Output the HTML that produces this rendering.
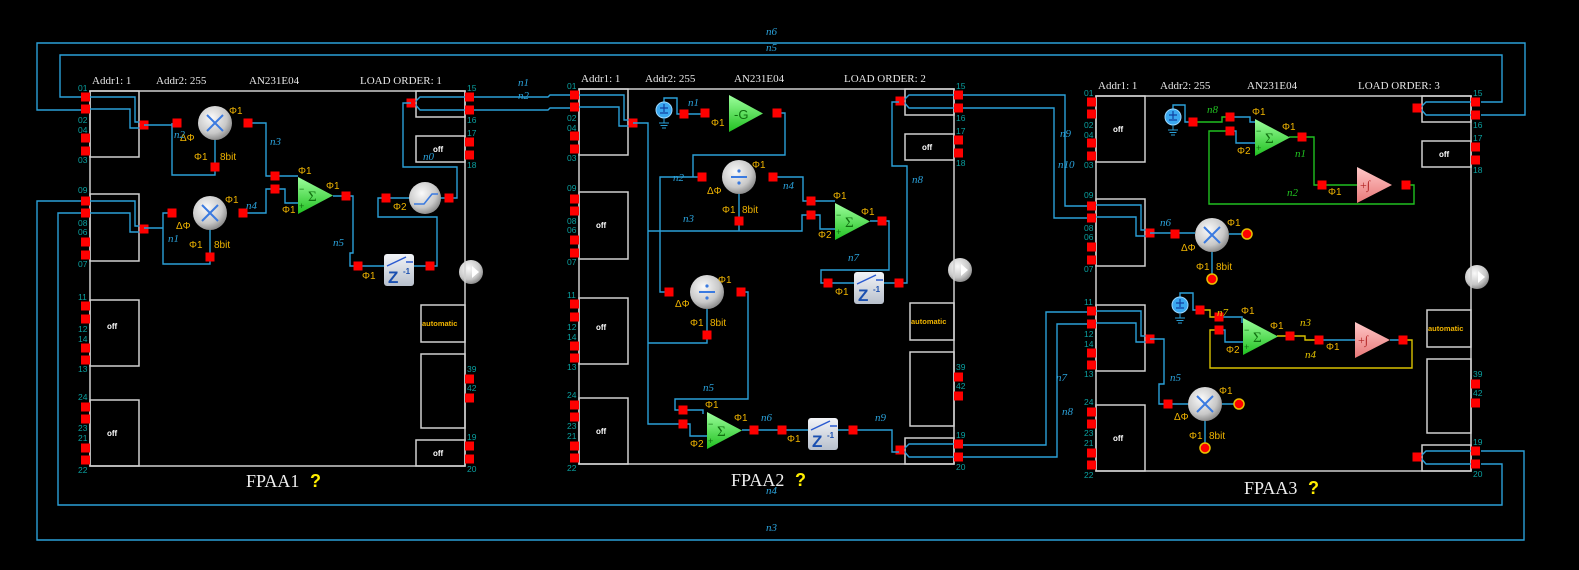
<!DOCTYPE html>
<html><head><meta charset="utf-8"><style>
html,body{margin:0;padding:0;background:#000;}
svg{display:block;}
.hd{font-family:"Liberation Serif",serif;font-size:11px;fill:#e6e6e6;}
.pl{font-family:"Liberation Sans",sans-serif;font-size:8.5px;fill:#0aa0a0;}
.off{font-family:"Liberation Sans",sans-serif;font-size:8px;fill:#fff;font-weight:bold;}
.auto{font-family:"Liberation Sans",sans-serif;font-size:7.5px;fill:#f0b400;font-weight:bold;}
.ph{font-family:"Liberation Sans",sans-serif;font-size:10px;fill:#f0b400;}
.nl{font-family:"Liberation Serif",serif;font-size:11px;fill:#2aa0d8;font-style:italic;}
.ng{font-family:"Liberation Serif",serif;font-size:11px;fill:#20c020;font-style:italic;}
.ny{font-family:"Liberation Serif",serif;font-size:11px;fill:#e0c000;font-style:italic;}
.tt{font-family:"Liberation Serif",serif;font-size:18px;fill:#eee;}
.q{font-family:"Liberation Sans",sans-serif;font-size:18px;fill:#ffee00;font-weight:bold;}
.w{fill:none;stroke:#2aa0d8;stroke-width:1.4;}
.wg{fill:none;stroke:#20c020;stroke-width:1.4;}
.wy{fill:none;stroke:#d8c000;stroke-width:1.4;}
.bx{fill:none;stroke:#d0d0d0;stroke-width:1.5;}
.p{fill:#ff0000;}
.z{font-family:"Liberation Sans",sans-serif;font-size:17px;font-weight:bold;fill:#1a4fb0;}
.zs{font-family:"Liberation Sans",sans-serif;font-size:8px;font-weight:bold;fill:#1a4fb0;}
</style></head><body>
<svg width="1579" height="570" viewBox="0 0 1579 570" xmlns="http://www.w3.org/2000/svg">
<defs>
<radialGradient id="gc" cx="40%" cy="35%" r="65%"><stop offset="0" stop-color="#fafafa"/><stop offset="0.7" stop-color="#c8c8c8"/><stop offset="1" stop-color="#909090"/></radialGradient>
<linearGradient id="gz" x1="0" y1="0" x2="0" y2="1"><stop offset="0" stop-color="#f2f4f8"/><stop offset="1" stop-color="#b8c0cc"/></linearGradient>
<linearGradient id="gg" x1="0" y1="0" x2="0" y2="1"><stop offset="0" stop-color="#9dff9d"/><stop offset="1" stop-color="#20c020"/></linearGradient>
<linearGradient id="gp" x1="0" y1="0" x2="0" y2="1"><stop offset="0" stop-color="#ffc8c8"/><stop offset="1" stop-color="#e87878"/></linearGradient>
<g id="frame">
 <circle cx="381" cy="181" r="12" fill="url(#gc)"/>
 <path d="M382 175 L389 181 L382 187Z" fill="#fff"/>
 <rect x="0" y="0" width="375" height="375" class="bx"/>
 <rect x="0" y="0" width="49" height="66" class="bx"/>
 <rect x="0" y="103" width="49" height="67" class="bx"/>
 <rect x="0" y="209" width="49" height="66" class="bx"/>
 <rect x="0" y="309" width="49" height="66" class="bx"/>
 <rect x="326" y="0" width="49" height="26" class="bx"/>
 <rect x="326" y="45" width="49" height="26" class="bx"/>
 <rect x="331" y="214" width="44" height="37" class="bx"/>
 <rect x="331" y="263" width="44" height="74" class="bx"/>
 <rect x="326" y="349" width="49" height="26" class="bx"/>
 <g class="p">
  <rect x="-9" y="1.5" width="9" height="9"/><rect x="-9" y="13.5" width="9" height="9"/><rect x="-9" y="42.5" width="9" height="9"/><rect x="-9" y="55.5" width="9" height="9"/>
  <rect x="-9" y="105.5" width="9" height="9"/><rect x="-9" y="117.5" width="9" height="9"/><rect x="-9" y="146.5" width="9" height="9"/><rect x="-9" y="159.5" width="9" height="9"/>
  <rect x="-9" y="210.5" width="9" height="9"/><rect x="-9" y="223.5" width="9" height="9"/><rect x="-9" y="252.5" width="9" height="9"/><rect x="-9" y="264.5" width="9" height="9"/>
  <rect x="-9" y="311.5" width="9" height="9"/><rect x="-9" y="323.5" width="9" height="9"/><rect x="-9" y="352.5" width="9" height="9"/><rect x="-9" y="364.5" width="9" height="9"/>
  <rect x="375" y="1.5" width="9" height="9"/><rect x="375" y="14.5" width="9" height="9"/><rect x="375" y="46.5" width="9" height="9"/><rect x="375" y="59.5" width="9" height="9"/>
  <rect x="375" y="283.5" width="9" height="9"/><rect x="375" y="302.5" width="9" height="9"/><rect x="375" y="350.5" width="9" height="9"/><rect x="375" y="363.5" width="9" height="9"/>
 </g>
</g>
<g id="xl"><path class="w" d="M0 6 H45 V31 H54 M0 18 H40 V37 H54"/><rect class="p" x="49.5" y="29.5" width="9" height="9"/></g>
<g id="xr"><path class="w" d="M375 6 H330 L324 12 M375 19 H330 L324 12"/><rect class="p" x="316.5" y="7.5" width="9" height="9"/></g>
<g id="mul"><circle r="17" fill="url(#gc)"/><path d="M-8 -8 L8 8 M8 -8 L-8 8" stroke="#3a7ae0" stroke-width="2"/></g>
<g id="div"><circle r="17" fill="url(#gc)"/><path d="M-8 0 H8" stroke="#3a7ae0" stroke-width="2"/><circle cy="-6" r="1.6" fill="#3a7ae0"/><circle cy="6" r="1.6" fill="#3a7ae0"/></g>
<g id="src"><circle r="8" fill="#3aa8f0" stroke="#9cd8ff"/><path d="M-4 -2 H4 M0 -6 V2 M-4 3 H4" stroke="#1040a0" stroke-width="1.2"/><path d="M0 8 V13 M-5 13 H5 M-3.5 15.5 H3.5 M-2 18 H2" stroke="#2aa0d8" stroke-width="1"/></g>
<g id="sum"><path d="M0 0 L35 18.5 L0 37Z" fill="url(#gg)"/><text x="10" y="24" font-family="Liberation Serif,serif" font-size="15" fill="#107010">Σ</text><text x="1" y="15" font-size="9" fill="#107010" font-family="Liberation Sans,sans-serif">−</text><text x="1" y="32" font-size="9" fill="#107010" font-family="Liberation Sans,sans-serif">+</text></g>
<g id="integ"><path d="M0 0 L35 18 L0 36Z" fill="url(#gp)"/><text x="3" y="22" font-family="Liberation Serif,serif" font-size="12" fill="#b02020">+∫</text></g>
<g id="zb"><rect width="30" height="32" rx="3" fill="url(#gz)"/><path d="M3 12 L22 3 M22 8 H29" stroke="#2a5ad0" stroke-width="1.5"/><text x="4" y="29" class="z">Z</text><text x="19" y="20" class="zs">-1</text></g>
<g id="rpad"><circle r="5" fill="#f00" stroke="#e8c000" stroke-width="1.5"/></g>
</defs>

<!-- global wires -->
<path class="w" d="M81 97 H60 V55 H1502 V102 H1481"/>
<path class="w" d="M81 110 H37 V43 H1525 V115 H1481"/>
<path class="w" d="M81 201 H37 V540 H1524 V451 H1481"/>
<path class="w" d="M81 213 H58 V505 H1502 V464 H1481"/>
<path class="w" d="M474 97 H548 L550 95 H570"/>
<path class="w" d="M474 110 H548 L550 108 H570"/>
<path class="w" d="M963 95 H1065 V206 H1087"/>
<path class="w" d="M963 108 H1054 V218 H1087"/>
<path class="w" d="M963 445 H1046 V312 H1087"/>
<path class="w" d="M963 457 H1057 V324 H1087"/>
<text class="nl" x="766" y="35">n6</text><text class="nl" x="766" y="51">n5</text>
<text class="nl" x="766" y="494">n4</text><text class="nl" x="766" y="531">n3</text>
<text class="nl" x="518" y="86">n1</text><text class="nl" x="518" y="99">n2</text>
<text class="nl" x="1060" y="137">n9</text><text class="nl" x="1058" y="168">n10</text>
<text class="nl" x="1056" y="381">n7</text><text class="nl" x="1062" y="415">n8</text>

<!-- ===== FPAA1 ===== -->
<g transform="translate(90,91)">
 <use href="#frame"/><use href="#xl"/><use href="#xl" transform="translate(0,104)"/><use href="#xr"/>
 <text class="hd" x="2" y="-7">Addr1: 1</text><text class="hd" x="66" y="-7">Addr2: 255</text><text class="hd" x="159" y="-7">AN231E04</text><text class="hd" x="270" y="-7">LOAD ORDER: 1</text>
 <g class="pl"><text x="-12" y="0">01</text><text x="-12" y="32">02</text><text x="-12" y="42">04</text><text x="-12" y="72">03</text><text x="-12" y="102">09</text><text x="-12" y="135">08</text><text x="-12" y="144">06</text><text x="-12" y="176">07</text><text x="-12" y="209">11</text><text x="-12" y="241">12</text><text x="-12" y="251">14</text><text x="-12" y="281">13</text><text x="-12" y="309">24</text><text x="-12" y="340">23</text><text x="-12" y="350">21</text><text x="-12" y="382">22</text>
 <text x="377" y="0">15</text><text x="377" y="32">16</text><text x="377" y="45">17</text><text x="377" y="77">18</text><text x="377" y="281">39</text><text x="377" y="300">42</text><text x="377" y="349">19</text><text x="377" y="381">20</text></g>
 <text class="off" x="17" y="238">off</text><text class="off" x="17" y="345">off</text><text class="off" x="343" y="61">off</text><text class="off" x="343" y="365">off</text><text class="auto" x="332" y="235">automatic</text>
 <text class="tt" x="156" y="396">FPAA1</text><text class="q" x="220" y="396">?</text>
</g>
<path class="w" d="M144 125 H177 M172 123 V175 H215 V167 M248 123 H266 V176 H275 M144 228 H163 V213 H172 M163 228 V264 H210 V257 M243 213 H266 V189 H275 M275 176 H298 M275 189 H285 V203 H298 M333 196 H346 H353 V253 H350 V266 H358 H430 H437 V217 H378 V198 H386 H449 H457 V167 H403 V103 H411 M215 140 V167 M210 230 V257"/>
<use href="#mul" x="215" y="123"/><use href="#mul" x="210" y="213"/>
<use href="#sum" x="298" y="177"/><use href="#zb" x="384" y="254"/>
<circle cx="425" cy="198" r="16" fill="url(#gc)"/><path d="M414 204 L424 204 L432 194 H438" stroke="#3a7ae0" stroke-width="1.6" fill="none"/>
<g class="p"><rect x="172.5" y="118.5" width="9" height="9"/><rect x="243.5" y="118.5" width="9" height="9"/><rect x="210.5" y="162.5" width="9" height="9"/><rect x="167.5" y="208.5" width="9" height="9"/><rect x="238.5" y="208.5" width="9" height="9"/><rect x="205.5" y="252.5" width="9" height="9"/><rect x="270.5" y="171.5" width="9" height="9"/><rect x="270.5" y="184.5" width="9" height="9"/><rect x="341.5" y="191.5" width="9" height="9"/><rect x="353.5" y="261.5" width="9" height="9"/><rect x="425.5" y="261.5" width="9" height="9"/><rect x="381.5" y="193.5" width="9" height="9"/><rect x="444.5" y="193.5" width="9" height="9"/></g>
<g class="ph"><text x="229" y="114">Φ1</text><text x="194" y="160">Φ1</text><text x="220" y="160">8bit</text><text x="180" y="141">ΔΦ</text><text x="225" y="203">Φ1</text><text x="176" y="229">ΔΦ</text><text x="189" y="248">Φ1</text><text x="214" y="248">8bit</text><text x="298" y="174">Φ1</text><text x="282" y="213">Φ1</text><text x="326" y="189">Φ1</text><text x="362" y="279">Φ1</text><text x="393" y="210">Φ2</text></g>
<text class="nl" x="174" y="138">n2</text><text class="nl" x="270" y="145">n3</text><text class="nl" x="246" y="209">n4</text><text class="nl" x="168" y="242">n1</text><text class="nl" x="333" y="246">n5</text><text class="nl" x="423" y="160">n0</text>

<!-- ===== FPAA2 ===== -->
<g transform="translate(579,89)">
 <use href="#frame"/><use href="#xl"/><use href="#xr"/><use href="#xr" transform="translate(0,349)"/>
 <text class="hd" x="2" y="-7">Addr1: 1</text><text class="hd" x="66" y="-7">Addr2: 255</text><text class="hd" x="155" y="-7">AN231E04</text><text class="hd" x="265" y="-7">LOAD ORDER: 2</text>
 <g class="pl"><text x="-12" y="0">01</text><text x="-12" y="32">02</text><text x="-12" y="42">04</text><text x="-12" y="72">03</text><text x="-12" y="102">09</text><text x="-12" y="135">08</text><text x="-12" y="144">06</text><text x="-12" y="176">07</text><text x="-12" y="209">11</text><text x="-12" y="241">12</text><text x="-12" y="251">14</text><text x="-12" y="281">13</text><text x="-12" y="309">24</text><text x="-12" y="340">23</text><text x="-12" y="350">21</text><text x="-12" y="382">22</text>
 <text x="377" y="0">15</text><text x="377" y="32">16</text><text x="377" y="45">17</text><text x="377" y="77">18</text><text x="377" y="281">39</text><text x="377" y="300">42</text><text x="377" y="349">19</text><text x="377" y="381">20</text></g>
 <text class="off" x="17" y="139">off</text><text class="off" x="17" y="241">off</text><text class="off" x="17" y="345">off</text><text class="off" x="343" y="61">off</text><text class="auto" x="332" y="235">automatic</text>
 <text class="tt" x="152" y="397">FPAA2</text><text class="q" x="216" y="397">?</text>
</g>
<path class="w" d="M633 123 H648 V424 H683 M648 231 H802 V215 H811 M739 221 V231 M664 102 V98 H677 V114 H705 M777 113 H785 V155 H693 V177 H702 M702 177 H660 V292 H669 M773 177 H803 V201 H811 M811 201 H835 M811 215 H820 V229 H835 M870 221 H882 H889 V270 H821 V283 H828 M828 283 H899 H907 V166 H892 V102 H899 M707 309 V335 M707 335 V343 H648 M741 292 H748 V399 H675 V410 H683 H703 V414 M683 424 H690 V436 H707 M742 430 H754 H782 H853 H892 V452 H899 M739 194 V221"/>
<use href="#src" x="664" y="110"/>
<path d="M729 95 L763 113.5 L729 132Z" fill="url(#gg)"/><text x="734" y="119" font-family="Liberation Sans,sans-serif" font-size="13" fill="#107010">-G</text>
<use href="#div" x="739" y="177"/><use href="#div" x="707" y="292"/>
<use href="#sum" x="835" y="203"/><use href="#sum" x="707" y="412"/>
<use href="#zb" x="854" y="272"/><use href="#zb" x="808" y="418"/>
<g class="p"><rect x="679.5" y="109.5" width="9" height="9"/><rect x="700.5" y="108.5" width="9" height="9"/><rect x="772.5" y="108.5" width="9" height="9"/><rect x="697.5" y="172.5" width="9" height="9"/><rect x="768.5" y="172.5" width="9" height="9"/><rect x="734.5" y="216.5" width="9" height="9"/><rect x="806.5" y="196.5" width="9" height="9"/><rect x="806.5" y="210.5" width="9" height="9"/><rect x="877.5" y="216.5" width="9" height="9"/><rect x="823.5" y="278.5" width="9" height="9"/><rect x="894.5" y="278.5" width="9" height="9"/><rect x="664.5" y="287.5" width="9" height="9"/><rect x="736.5" y="287.5" width="9" height="9"/><rect x="702.5" y="330.5" width="9" height="9"/><rect x="678.5" y="405.5" width="9" height="9"/><rect x="678.5" y="419.5" width="9" height="9"/><rect x="749.5" y="425.5" width="9" height="9"/><rect x="777.5" y="425.5" width="9" height="9"/><rect x="848.5" y="425.5" width="9" height="9"/></g>
<g class="ph"><text x="711" y="126">Φ1</text><text x="752" y="168">Φ1</text><text x="707" y="194">ΔΦ</text><text x="722" y="213">Φ1</text><text x="742" y="213">8bit</text><text x="833" y="199">Φ1</text><text x="818" y="238">Φ2</text><text x="861" y="215">Φ1</text><text x="835" y="295">Φ1</text><text x="718" y="283">Φ1</text><text x="675" y="307">ΔΦ</text><text x="690" y="326">Φ1</text><text x="710" y="326">8bit</text><text x="705" y="408">Φ1</text><text x="690" y="447">Φ2</text><text x="734" y="421">Φ1</text><text x="787" y="442">Φ1</text></g>
<text class="nl" x="688" y="106">n1</text><text class="nl" x="673" y="181">n2</text><text class="nl" x="683" y="222">n3</text><text class="nl" x="783" y="189">n4</text><text class="nl" x="848" y="261">n7</text><text class="nl" x="912" y="183">n8</text><text class="nl" x="703" y="391">n5</text><text class="nl" x="761" y="421">n6</text><text class="nl" x="875" y="421">n9</text>

<!-- ===== FPAA3 ===== -->
<g transform="translate(1096,96)">
 <use href="#frame"/><use href="#xl" transform="translate(0,103)"/><use href="#xl" transform="translate(0,209)"/><use href="#xr"/><use href="#xr" transform="translate(0,349)"/>
 <text class="hd" x="2" y="-7">Addr1: 1</text><text class="hd" x="64" y="-7">Addr2: 255</text><text class="hd" x="151" y="-7">AN231E04</text><text class="hd" x="262" y="-7">LOAD ORDER: 3</text>
 <g class="pl"><text x="-12" y="0">01</text><text x="-12" y="32">02</text><text x="-12" y="42">04</text><text x="-12" y="72">03</text><text x="-12" y="102">09</text><text x="-12" y="135">08</text><text x="-12" y="144">06</text><text x="-12" y="176">07</text><text x="-12" y="209">11</text><text x="-12" y="241">12</text><text x="-12" y="251">14</text><text x="-12" y="281">13</text><text x="-12" y="309">24</text><text x="-12" y="340">23</text><text x="-12" y="350">21</text><text x="-12" y="382">22</text>
 <text x="377" y="0">15</text><text x="377" y="32">16</text><text x="377" y="45">17</text><text x="377" y="77">18</text><text x="377" y="281">39</text><text x="377" y="300">42</text><text x="377" y="349">19</text><text x="377" y="381">20</text></g>
 <text class="off" x="17" y="36">off</text><text class="off" x="17" y="345">off</text><text class="off" x="343" y="61">off</text><text class="auto" x="332" y="235">automatic</text>
 <text class="tt" x="148" y="398">FPAA3</text><text class="q" x="212" y="398">?</text>
</g>
<path class="w" d="M1173 109 V105 H1185 V122 H1193 M1230 117 H1250 V122 H1255 M1230 131 H1236 V143 H1255 M1150 233 H1195 M1212 252 V279 M1229 234 H1247 M1180 297 V293 H1193 V310 H1200 M1219 317 H1242 V323 M1219 330 H1225 V342 H1243 M1150 339 H1164 V384 H1159 V404 H1188 M1205 421 V448 M1222 404 H1239 M1319 340 H1355 M1390 340 H1403"/>
<path class="wg" d="M1193 122 H1222 V117 H1230 M1289 137 H1314 V185 H1357 M1406 185 H1414 V204 H1209 V131 H1230"/>
<path class="wy" d="M1200 310 H1210 V317 H1219 M1277 336 H1305 V340 H1319 M1403 340 H1412 V368 H1210 V330 H1219"/>
<use href="#src" x="1173" y="117"/><use href="#src" x="1180" y="305"/>
<use href="#sum" x="1255" y="119"/><use href="#sum" x="1243" y="318"/>
<use href="#integ" x="1357" y="167"/><use href="#integ" x="1355" y="322"/>
<use href="#mul" x="1212" y="235"/><use href="#mul" x="1205" y="404"/>
<use href="#rpad" x="1247" y="234"/><use href="#rpad" x="1212" y="279"/><use href="#rpad" x="1239" y="404"/><use href="#rpad" x="1205" y="448"/>
<g class="p"><rect x="1188.5" y="117.5" width="9" height="9"/><rect x="1225.5" y="112.5" width="9" height="9"/><rect x="1225.5" y="126.5" width="9" height="9"/><rect x="1297.5" y="132.5" width="9" height="9"/><rect x="1317.5" y="180.5" width="9" height="9"/><rect x="1401.5" y="180.5" width="9" height="9"/><rect x="1170.5" y="229.5" width="9" height="9"/><rect x="1195.5" y="305.5" width="9" height="9"/><rect x="1214.5" y="312.5" width="9" height="9"/><rect x="1214.5" y="325.5" width="9" height="9"/><rect x="1285.5" y="331.5" width="9" height="9"/><rect x="1314.5" y="335.5" width="9" height="9"/><rect x="1398.5" y="335.5" width="9" height="9"/><rect x="1163.5" y="399.5" width="9" height="9"/></g>
<g class="ph"><text x="1252" y="115">Φ1</text><text x="1282" y="130">Φ1</text><text x="1237" y="154">Φ2</text><text x="1328" y="195">Φ1</text><text x="1227" y="226">Φ1</text><text x="1181" y="251">ΔΦ</text><text x="1196" y="270">Φ1</text><text x="1216" y="270">8bit</text><text x="1241" y="314">Φ1</text><text x="1270" y="329">Φ1</text><text x="1226" y="353">Φ2</text><text x="1326" y="350">Φ1</text><text x="1219" y="394">Φ1</text><text x="1174" y="420">ΔΦ</text><text x="1189" y="439">Φ1</text><text x="1209" y="439">8bit</text></g>
<text class="ng" x="1207" y="113">n8</text><text class="ng" x="1295" y="157">n1</text><text class="ng" x="1287" y="196">n2</text><text class="nl" x="1160" y="226">n6</text><text class="ny" x="1217" y="316">n7</text><text class="ny" x="1300" y="326">n3</text><text class="ny" x="1305" y="358">n4</text><text class="nl" x="1170" y="381">n5</text>
</svg>
</body></html>
